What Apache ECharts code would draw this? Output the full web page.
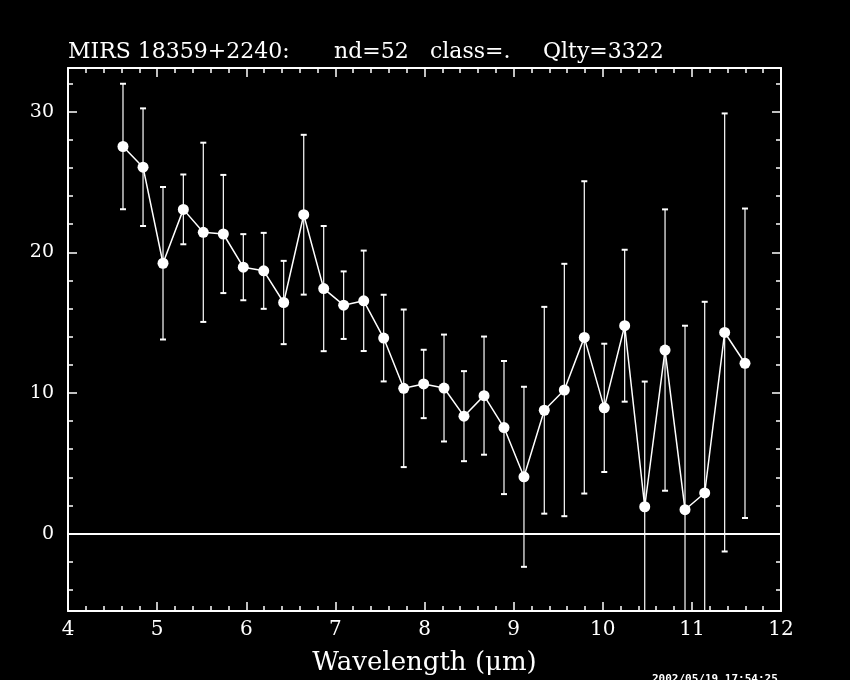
<!DOCTYPE html>
<html><head><meta charset="utf-8">
<script src="https://cdn.jsdelivr.net/npm/echarts@6/dist/echarts.min.js"></script>
<style>html,body{margin:0;padding:0;background:#000}#c{width:850px;height:680px}</style>
</head><body><div id="c"></div>
<script>
// ---- data ----
const wavelength = [4.617, 4.842, 5.066, 5.294, 5.518, 5.743, 5.967, 6.196, 6.420, 6.645, 6.869, 7.093,
  7.318, 7.542, 7.767, 7.991, 8.219, 8.443, 8.668, 8.892, 9.116, 9.344, 9.569, 9.793,
  10.017, 10.246, 10.471, 10.699, 10.923, 11.144, 11.368, 11.596];
const flux = [27.52, 26.05, 19.22, 23.05, 21.42, 21.30, 18.94, 18.68, 16.43, 22.67, 17.42, 16.24,
  16.55, 13.90, 10.33, 10.64, 10.35, 8.35, 9.81, 7.54, 4.04, 8.77, 10.21, 13.95,
  8.94, 14.78, 1.91, 13.05, 1.70, 2.89, 14.30, 12.11];
const fluxErr = [4.46, 4.18, 5.42, 2.48, 6.37, 4.20, 2.35, 2.70, 2.96, 5.68, 4.45, 2.40,
  3.57, 3.08, 5.60, 2.43, 3.80, 3.20, 4.20, 4.73, 6.40, 7.35, 8.97, 11.10,
  4.56, 5.40, 8.90, 10.00, 13.08, 13.59, 15.57, 11.00];
const yMajorTicks = [0, 10, 20, 30];
const yMinorTicks = [-4, -2, 2, 4, 6, 8, 12, 14, 16, 18, 22, 24, 26, 28, 32];
const titleParts = ['MIRS 18359+2240:', 'nd=52', 'class=.', 'Qlty=3322'];
const xAxisName = 'Wavelength (\u03bcm)';
const timestamp = '2002/05/19 17:54:25';

// ---- chart ----
const W = '#ffffff';
const FONT = 'DejaVu Serif';
const chart = echarts.init(document.getElementById('c'), null, {renderer: 'canvas'});

function xAx(pos, showLabel) {
  return {
    type: 'value', position: pos, min: 4, max: 12, interval: 1,
    axisLine: {onZero: false, lineStyle: {color: W, width: 2}},
    axisTick: {inside: true, length: 9, lineStyle: {color: W, width: 1.5}},
    minorTick: {show: true, splitNumber: 5, length: 5, lineStyle: {color: W, width: 1.5}},
    axisLabel: {show: showLabel, color: W, fontFamily: FONT, fontSize: 20, margin: 9},
    splitLine: {show: false}, minorSplitLine: {show: false},
    name: showLabel ? xAxisName : '', nameLocation: 'middle', nameGap: 39,
    nameTextStyle: {color: W, fontFamily: FONT, fontSize: 26}
  };
}
function yAx(pos, major, showLabel) {
  return {
    type: 'value', position: pos, min: -5.5, max: 33.1,
    axisLine: {show: major, onZero: false, lineStyle: {color: W, width: 2}},
    axisTick: {show: true, inside: true, length: major ? 9 : 5,
      customValues: major ? yMajorTicks : yMinorTicks, lineStyle: {color: W, width: 1.5}},
    axisLabel: {show: showLabel, customValues: yMajorTicks, color: W, fontFamily: FONT, fontSize: 19, margin: 14},
    splitLine: {show: false}
  };
}

const option = {
  backgroundColor: '#000',
  animation: false,
  grid: {left: 68, right: 69, top: 68, bottom: 69, containLabel: false, outerBoundsMode: 'none'},
  xAxis: [xAx('bottom', true), xAx('top', false)],
  yAxis: [yAx('left', true, true), yAx('left', false, false), yAx('right', true, false), yAx('right', false, false)],
  graphic: [
    {type: 'text', left: 68, top: 41, style: {text: titleParts[0], fill: W, font: '22px "' + FONT + '"'}},
    {type: 'text', left: 334, top: 41, style: {text: titleParts[1], fill: W, font: '22px "' + FONT + '"'}},
    {type: 'text', left: 430, top: 41, style: {text: titleParts[2], fill: W, font: '22px "' + FONT + '"'}},
    {type: 'text', left: 543, top: 41, style: {text: titleParts[3], fill: W, font: '22px "' + FONT + '"'}},
    {type: 'text', left: 652, top: 674, style: {text: timestamp, fill: W, font: 'bold 11px "DejaVu Sans Mono"'}}
  ],
  series: [
    {
      type: 'custom', xAxisIndex: 0, yAxisIndex: 0, clip: true, z: 2,
      data: wavelength.map((w, i) => [w, flux[i] - fluxErr[i], flux[i] + fluxErr[i]]),
      encode: {x: 0, y: [1, 2]},
      renderItem: function (params, api) {
        const x = api.value(0);
        const pLo = api.coord([x, api.value(1)]);
        const pHi = api.coord([x, api.value(2)]);
        const cw = 3;
        return {
          type: 'group', children: [
            {type: 'line', shape: {x1: pHi[0], y1: pHi[1], x2: pLo[0], y2: pLo[1]}, style: {stroke: W, lineWidth: 1.2}},
            {type: 'line', shape: {x1: pHi[0] - cw, y1: pHi[1], x2: pHi[0] + cw, y2: pHi[1]}, style: {stroke: W, lineWidth: 2}},
            {type: 'line', shape: {x1: pLo[0] - cw, y1: pLo[1], x2: pLo[0] + cw, y2: pLo[1]}, style: {stroke: W, lineWidth: 2}}
          ]
        };
      }
    },
    {
      type: 'line', xAxisIndex: 0, yAxisIndex: 0, z: 3,
      data: wavelength.map((w, i) => [w, flux[i]]),
      symbol: 'circle', symbolSize: 11, showSymbol: true,
      itemStyle: {color: W, borderWidth: 0},
      lineStyle: {color: W, width: 1.5},
      markLine: {silent: true, symbol: ['none', 'none'], label: {show: false},
        lineStyle: {color: W, width: 2, type: 'solid'}, data: [{yAxis: 0}]}
    }
  ]
};
chart.setOption(option);
</script></body></html>
